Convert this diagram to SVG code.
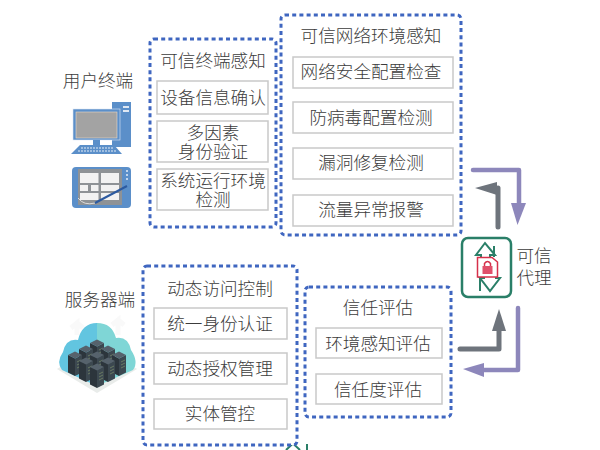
<svg xmlns="http://www.w3.org/2000/svg" width="600" height="450" viewBox="0 0 600 450">
<style>
text{font-family:"Noto Sans CJK SC","Noto Sans",sans-serif;font-size:17.6px;font-weight:300;fill:#3c3c3c;text-anchor:middle}
.dash{fill:#fff;stroke:#3f66c0;stroke-width:3;stroke-dasharray:4 3.2}
.item{fill:#fff;stroke:#c9c9c9;stroke-width:1.5}
.pu{fill:none;stroke:#8d87bb;stroke-width:4.5;stroke-linecap:round;stroke-linejoin:round}
.gr{fill:none;stroke:#6e747c;stroke-width:5;stroke-linecap:round;stroke-linejoin:round}
.ic{fill:none;stroke:#2a7f68;stroke-width:2}
</style>
<defs>
<g id="rack">
<polygon points="0,0 7,3.500 7,21 0,17.500" fill="#2c353c"/>
<polygon points="7,3.500 14,0 14,17.500 7,21" fill="#3c4850"/>
<polygon points="0,0 7,-3.500 14,0 7,3.500" fill="#56626c"/>
<path d="M9 7L13 5M9 10L13 8M9 13L13 11" stroke="#7d8f6a" stroke-width=".7"/>
</g>
</defs>
<rect width="600" height="450" fill="#fff"/>
<g id="connectors">
<path class="pu" d="M473 170H519V205"/><polygon points="517.500,225 511,203 526,203" fill="#8d87bb"/>
<path class="gr" d="M498 227V188"/><polygon points="475,188 497,182 497,195" fill="#6e747c"/>
<path class="gr" d="M460 349H499V330"/><polygon points="499,309 492,331 506,331" fill="#6e747c"/>
<path class="pu" d="M518 308V370H482"/><polygon points="463,369 484,363 484,377" fill="#8d87bb"/>
</g>
<g id="user-terminal">
<text x="98" y="87">用户终端</text>
<rect x="112" y="102" width="19" height="45" fill="#5b8fc9"/><rect x="123" y="106" width="6" height="2" fill="#dfe8f3"/><rect x="123" y="110" width="6" height="2" fill="#dfe8f3"/>
<rect x="73" y="109" width="47" height="31" fill="#5b8fc9" stroke="#dfe8f3" stroke-width=".6"/><rect x="76" y="112" width="41" height="26" fill="#a3a3a3" stroke="#ecd9c8" stroke-width=".6"/>
<rect x="93" y="140" width="7" height="5" fill="#5b8fc9"/><polygon points="71,154 122,154 114,145 80,145" fill="#5b8fc9"/>
<path d="M81 148H113M78 151H116" stroke="#e4edf7" stroke-width="1.2" stroke-dasharray="2 1"/>
<rect x="72" y="167" width="59" height="41" rx="4" fill="#5b8fc9"/><rect x="78" y="169" width="44" height="36" fill="#8e9296"/>
<path d="M80 173H98.500V183H80ZM101 173H119V183H101ZM80 185H88V191H80ZM91 185H98.500V191H91ZM101 185H119V191H101ZM80 193H98.500V200H80ZM101 193H119V200H101Z" fill="#f2f2f2"/>
<path d="M78 198Q84 206 95 203" fill="none" stroke="#dcdcdc" stroke-width="1"/><path d="M95 203L127 186" stroke="#2c5aa0" stroke-width="2"/>
<path d="M127 170V182" stroke="#e4edf7" stroke-width="1.5" stroke-dasharray="2 2"/>
</g>
<g id="terminal-sense">
<rect class="dash" x="150" y="39" width="126" height="188" rx="4"/>
<text x="213" y="67">可信终端感知</text>
<rect class="item" x="157" y="81" width="111" height="33"/><text x="213" y="104">设备信息确认</text>
<rect class="item" x="157" y="121" width="111" height="41"/><text x="213" y="138.500">多因素<tspan x="213" dy="19">身份验证</tspan></text>
<rect class="item" x="157" y="169" width="111" height="41"/><text x="213" y="187">系统运行环境<tspan x="213" dy="19">检测</tspan></text>
</g>
<g id="network-sense">
<rect class="dash" x="281" y="15" width="180" height="220" rx="4"/>
<text x="371" y="42">可信网络环境感知</text>
<rect class="item" x="293" y="57" width="160" height="31"/><text x="371" y="78">网络安全配置检查</text>
<rect class="item" x="293" y="102" width="160" height="31"/><text x="371" y="124">防病毒配置检测</text>
<rect class="item" x="293" y="148" width="160" height="31"/><text x="371" y="169">漏洞修复检测</text>
<rect class="item" x="293" y="195" width="160" height="31"/><text x="371" y="216">流量异常报警</text>
</g>
<g id="trusted-proxy">
<rect x="462" y="238" width="49" height="59" rx="6" fill="#fff" stroke="#2a7f68" stroke-width="2.500"/>
<path class="ic" d="M481 258V255H476L485 243L495 255H490V258"/>
<path class="ic" d="M494 246V257"/>
<path class="ic" d="M485 278H480L490 291L500 278H495"/>
<path class="ic" d="M480 278V291"/>
<path d="M477.500 257.500H492L497.500 262V277H477.500Z" fill="#fff" stroke="#d6304a" stroke-width="1.500"/>
<rect x="482.500" y="266" width="10" height="8" fill="#e0506a"/><path d="M484.500 266V263.500Q487.500 259.500 490.500 263.500V266" fill="none" stroke="#d6304a" stroke-width="1.500"/>
<text x="534" y="262">可信<tspan x="534" dy="22">代理</tspan></text>
<path class="ic" d="M286 450L293 443.500L300 450M307 444V450" stroke-width="2.500"/>
</g>
<g id="server">
<text x="100" y="306">服务器端</text>
<path d="M77 335V323L71 328M77 323L83 328M118 335V320L112 325M118 320L124 325" fill="none" stroke="#f9f9f9" stroke-width="5"/>
<polygon points="57,369 97,345 137,369 97,393" fill="#e9ecea"/>
<path d="M97 323Q82 323 78 340Q66 338 63 352Q56 362 62 370L97 386Z" fill="#62c5e0"/>
<path d="M97 323Q112 323 116 338Q128 336 131 350Q139 362 133 370L97 386Z" fill="#7fd6d6"/>
<g id="racks">
<use href="#rack" x="90" y="343"/><use href="#rack" x="101" y="349"/><use href="#rack" x="112" y="355"/>
<use href="#rack" x="79" y="349"/><use href="#rack" x="90" y="355"/><use href="#rack" x="101" y="361"/>
<use href="#rack" x="68" y="355"/><use href="#rack" x="79" y="361"/><use href="#rack" x="90" y="367"/>
</g>
</g>
<g id="access-control">
<rect class="dash" x="143" y="266" width="154" height="179" rx="4"/>
<text x="220" y="295">动态访问控制</text>
<rect class="item" x="154" y="308" width="133" height="31"/><text x="220" y="330">统一身份认证</text>
<rect class="item" x="154" y="353" width="133" height="31"/><text x="220" y="375">动态授权管理</text>
<rect class="item" x="154" y="399" width="133" height="30"/><text x="220" y="420">实体管控</text>
</g>
<g id="trust-eval">
<rect class="dash" x="305" y="287" width="146" height="130" rx="4"/>
<text x="378" y="314">信任评估</text>
<rect class="item" x="316" y="328" width="126" height="30"/><text x="378" y="350">环境感知评估</text>
<rect class="item" x="316" y="374" width="126" height="30"/><text x="378" y="396">信任度评估</text>
</g>
</svg>
